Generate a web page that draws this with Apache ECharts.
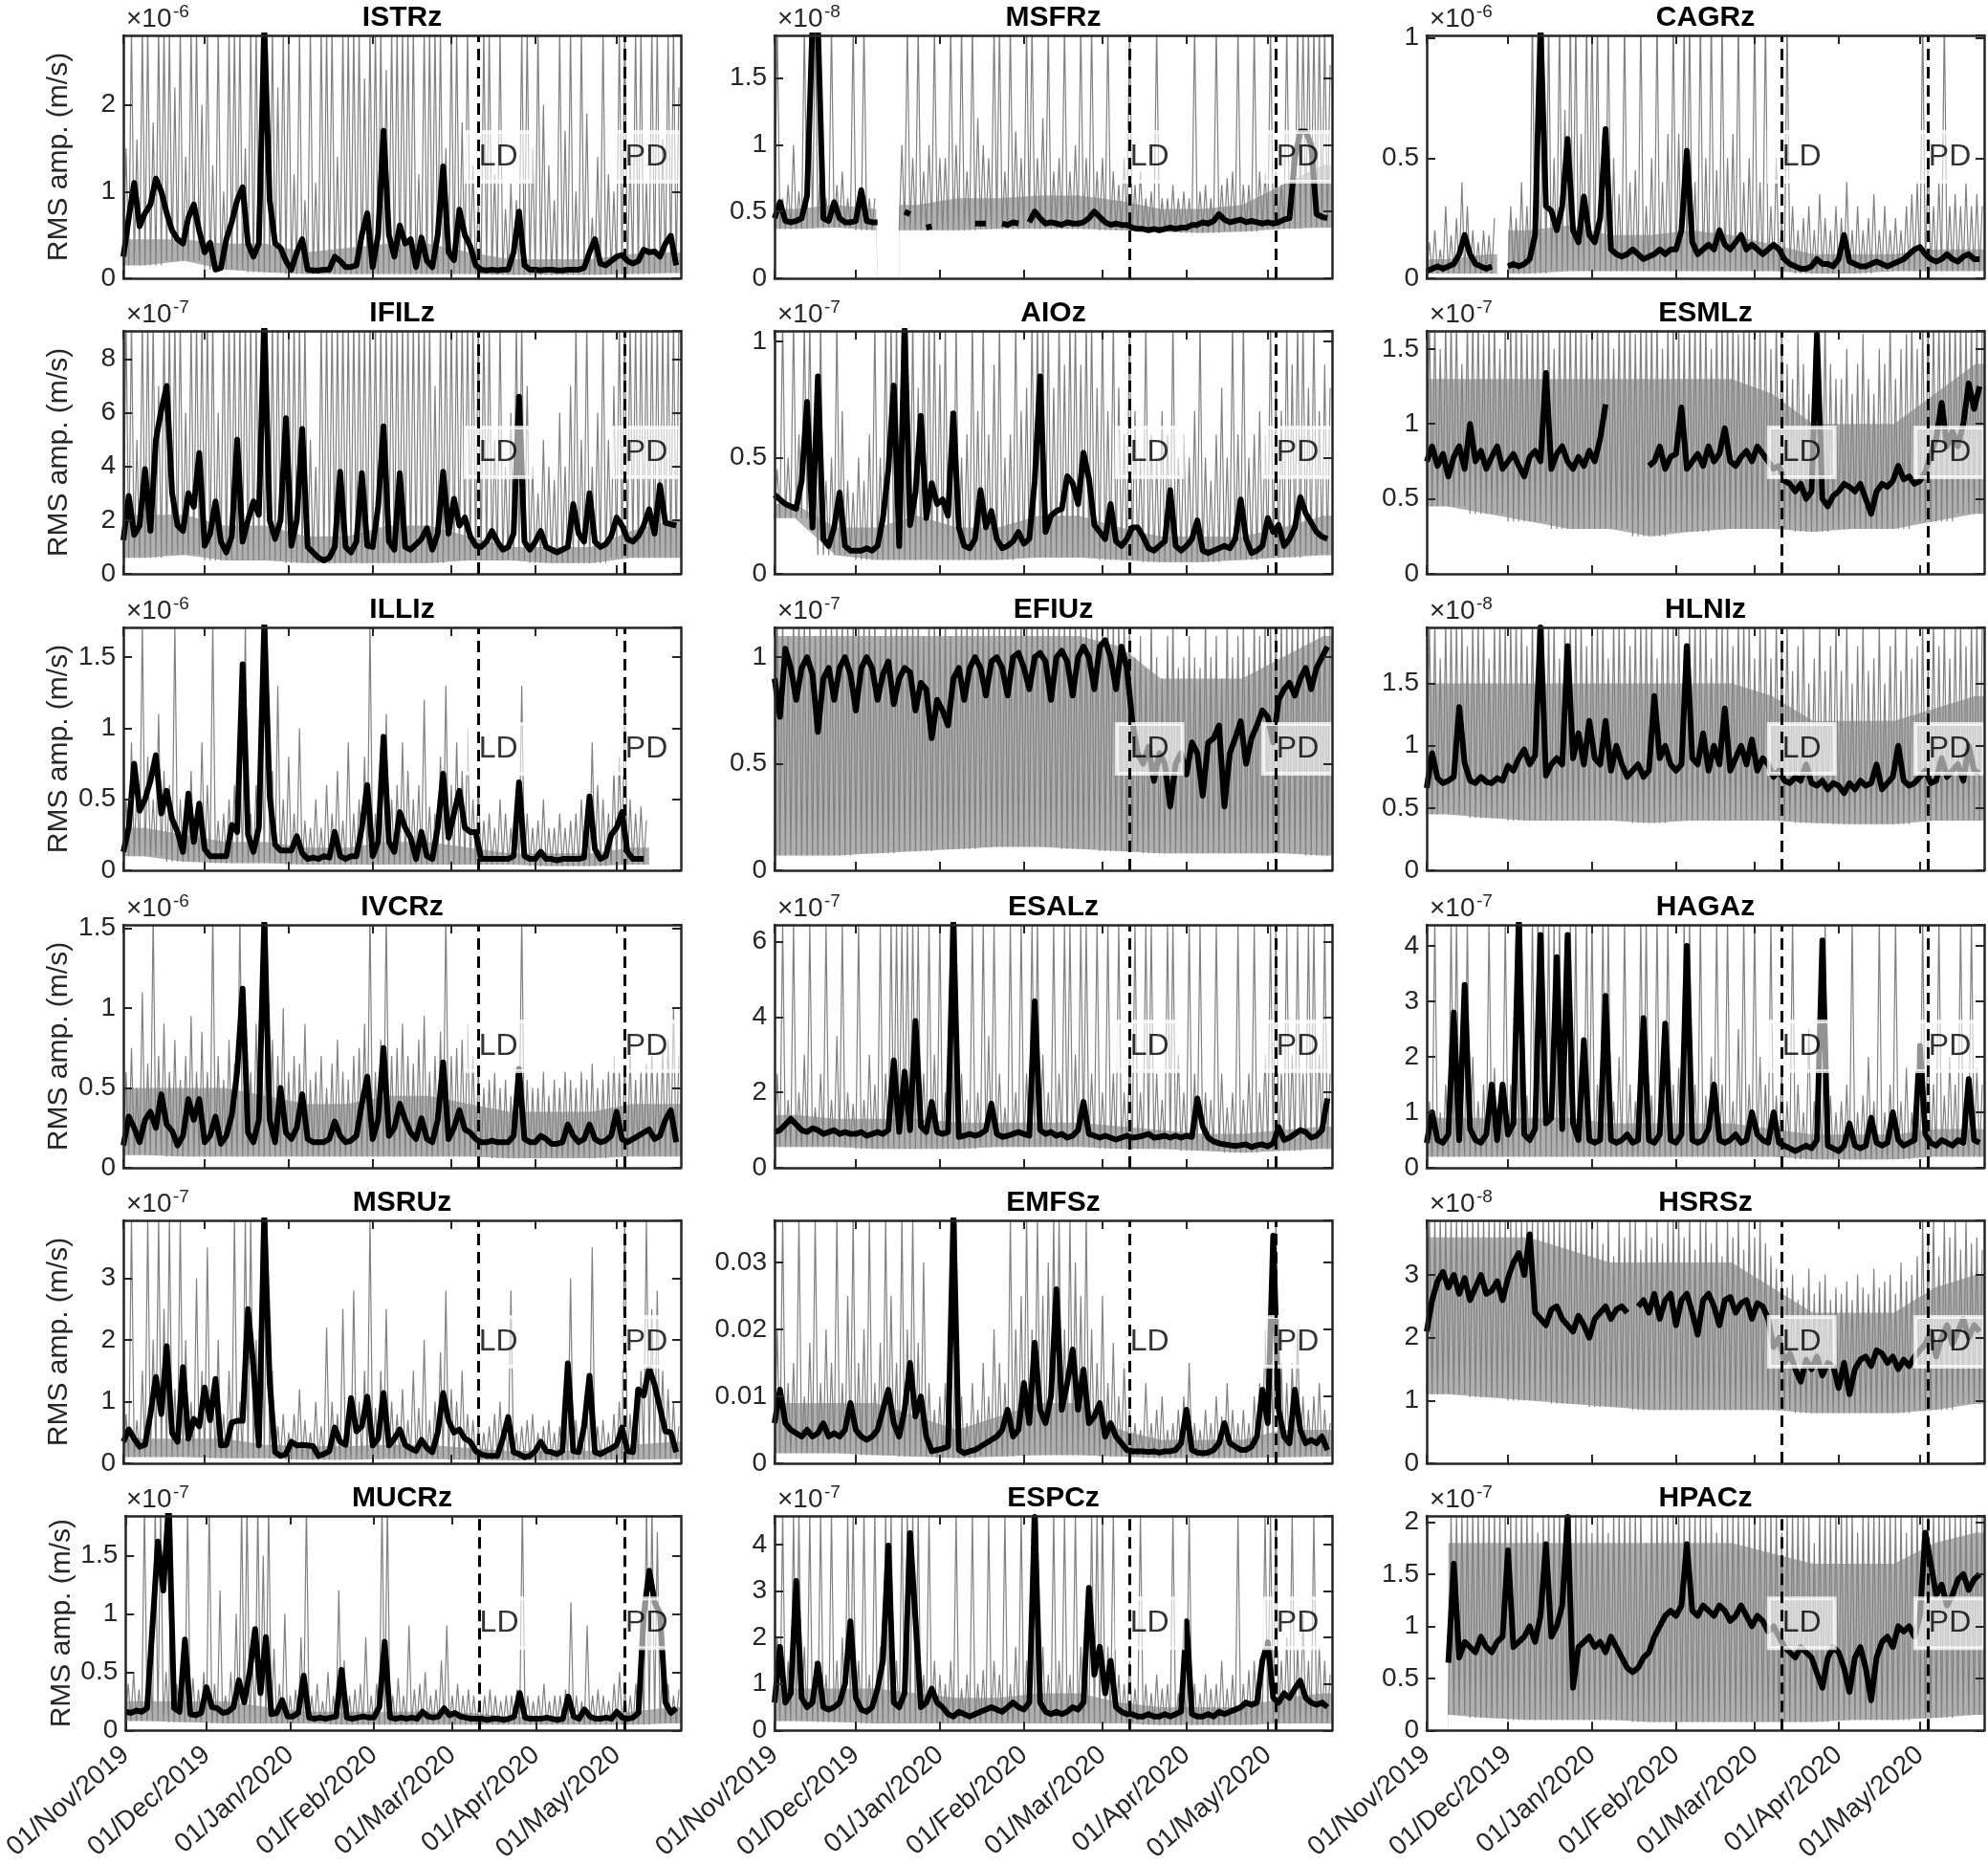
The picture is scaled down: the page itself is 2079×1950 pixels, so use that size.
<!DOCTYPE html>
<html>
<head>
<meta charset="utf-8">
<script src="https://cdn.jsdelivr.net/npm/echarts@6/dist/echarts.min.js"></script>
<style>
html, body { margin: 0; padding: 0; background: #fff; }
#main { width: 2079px; height: 1950px; }
</style>
</head>
<body>
<div id="main"></div>
<script>
"use strict"
var FONT = '"Liberation Sans", Arial, Helvetica, sans-serif';

// x axis: days since 01/Nov/2019
var monthDays = [0, 30, 61, 92, 121, 152, 182];
var monthLabels = ['01/Nov/2019', '01/Dec/2019', '01/Jan/2020', '01/Feb/2020', '01/Mar/2020', '01/Apr/2020', '01/May/2020'];
var xEnd = 205.7;
var ldDay = 131, pdDay = 185;

var stations = ['ISTRz', 'MSFRz', 'CAGRz', 'IFILz', 'AIOz', 'ESMLz', 'ILLIz', 'EFIUz', 'HLNIz',
  'IVCRz', 'ESALz', 'HAGAz', 'MSRUz', 'EMFSz', 'HSRSz', 'MUCRz', 'ESPCz', 'HPACz'];
var yMax  = [2.8, 1.82, 1.01, 9.05, 1.045, 1.62, 1.71, 1.14, 1.95, 1.52, 6.45, 4.38, 3.94, 0.0363, 3.87, 1.84, 4.62, 2.06];
var yStep = [1, 0.5, 0.5, 2, 0.5, 0.5, 0.5, 0.5, 0.5, 0.5, 2, 1, 1, 0.01, 1, 0.5, 1, 0.5];
var yExp  = ['-6', '-8', '-6', '-7', '-7', '-7', '-6', '-7', '-8', '-6', '-7', '-7', '-7', '', '-8', '-7', '-7', '-7'];

// black = smoothed curve, one value every 2 days (day 0,2,...,204)
// hi = grey hourly peaks, one every 2 days (day 1,3,...,205)
// lo = grey floor and band = top of the dense grey band, one value per 15 days
var blk_ISTRz = [0.25,0.7,1.1,0.6,0.75,0.85,1.15,1.0,0.75,0.55,0.45,0.4,0.7,0.85,0.55,
  0.3,0.41,0.1,0.12,0.45,0.65,0.9,1.05,0.4,0.25,0.4,2.9,0.9,0.4,0.35,0.2,
  0.1,0.3,0.45,0.1,0.09,0.09,0.1,0.1,0.25,0.2,0.13,0.13,0.15,0.5,0.75,
  0.13,0.5,1.7,0.5,0.25,0.61,0.4,0.45,0.13,0.47,0.2,0.13,0.5,1.29,0.3,
  0.21,0.79,0.5,0.37,0.15,0.1,0.09,0.1,0.09,0.1,0.1,0.3,0.77,0.15,0.1,
  0.1,0.09,0.1,0.1,0.09,0.09,0.1,0.1,0.1,0.12,0.3,0.45,0.17,0.15,0.2,
  0.25,0.27,0.2,0.17,0.2,0.33,0.3,0.31,0.25,0.4,0.49,0.15];
var hi_ISTRz = [1.5,2.9,1.6,2.9,2.9,1.8,2.9,2.9,2.9,2.2,2.9,1.4,2.9,2.9,2.0,
  2.9,1.3,2.9,1.0,2.9,2.9,2.9,1.5,2.9,2.9,2.9,2.9,2.9,2.2,2.9,2.9,
  1.2,2.9,0.9,2.9,1.1,2.9,2.9,2.9,1.4,2.9,2.9,2.9,2.9,2.3,2.9,
  2.9,2.9,2.4,2.9,2.9,2.9,2.9,2.9,1.2,2.9,2.9,2.9,2.9,1.5,2.9,
  2.9,1.8,2.9,1.3,0.9,2.9,2.9,1.2,2.9,0.8,1.1,0.9,2.9,2.9,1.5,
  2.9,2.0,1.3,0.9,2.9,1.7,2.9,1.0,2.9,1.9,0.7,1.4,2.9,1.2,1.0,
  2.9,2.9,1.4,2.9,2.9,1.1,2.9,2.9,1.6,2.9,2.9,2.2];
var lo_ISTRz = [0.15,0.2,0.1,0.07,0.05,0.05,0.05,0.05,0.05,0.04,0.04,0.04,0.05,0.06];
var band_ISTRz = [0.45,0.45,0.4,0.4,0.3,0.35,0.4,0.4,0.3,0.22,0.22,0.22,0.28,0.3];

var blk_MSFRz = [0.45,0.57,0.43,0.42,0.43,0.45,0.62,1.9,1.9,0.45,0.43,0.57,0.45,0.42,0.42,
  0.43,0.66,0.43,0.42,0.42,null,null,null,null,0.5,0.48,null,null,0.38,0.39,null,
  null,null,null,null,null,null,0.41,0.41,0.41,null,null,0.41,0.4,0.42,0.41,
  null,0.42,0.5,0.45,0.41,0.42,0.41,0.4,0.42,0.41,0.41,0.42,0.45,0.5,0.46,
  0.42,0.4,0.41,0.4,0.4,0.38,0.37,0.37,0.36,0.37,0.36,0.37,0.38,0.37,0.38,
  0.38,0.4,0.4,0.42,0.41,0.43,0.48,0.44,0.42,0.43,0.44,0.42,0.43,0.42,0.41,
  0.42,0.41,0.42,0.44,0.45,0.9,1.1,1.1,1.0,0.48,0.46,0.45];
var hi_MSFRz = [1.9,0.6,0.7,1.0,0.65,1.9,1.9,1.9,0.9,0.6,1.9,0.7,0.8,0.6,1.9,
  0.65,1.9,0.6,0.6,null,null,null,null,1.0,1.9,0.9,1.9,0.8,1.0,1.9,0.9,
  0.9,1.9,1.0,1.9,0.8,1.9,1.2,1.0,0.9,1.9,1.9,0.8,1.9,1.1,0.9,
  1.9,1.9,0.9,1.2,1.9,0.8,0.9,1.9,0.8,1.0,1.9,0.9,1.9,0.8,0.9,
  1.9,0.8,0.7,0.9,1.9,0.7,0.8,0.6,0.65,1.9,0.6,0.6,0.7,0.6,0.65,
  0.6,1.9,0.65,0.7,0.6,1.9,0.7,0.75,0.8,1.9,0.7,0.7,1.9,0.8,0.8,
  1.9,0.8,0.7,1.9,1.0,1.9,1.9,1.9,1.9,1.9,1.9,1.6];
var lo_MSFRz = [0.37,0.38,0.36,0.36,0.36,0.37,0.37,0.37,0.36,0.35,0.34,0.35,0.37,0.38];
var band_MSFRz = [0.52,0.55,0.52,0.55,0.6,0.6,0.62,0.62,0.58,0.52,0.52,0.55,0.7,0.85];

var blk_CAGRz = [0.03,0.04,0.05,0.04,0.05,0.06,0.1,0.18,0.1,0.06,0.05,0.04,0.05,null,null,
  0.05,0.06,0.05,0.06,0.08,0.18,1.05,0.3,0.28,0.2,0.3,0.58,0.2,0.15,0.34,0.18,
  0.15,0.25,0.62,0.12,0.1,0.09,0.1,0.12,0.1,0.08,0.09,0.1,0.12,0.1,0.12,
  0.12,0.2,0.53,0.15,0.1,0.12,0.14,0.12,0.2,0.14,0.12,0.15,0.18,0.12,0.14,
  0.12,0.1,0.12,0.14,0.12,0.08,0.06,0.05,0.04,0.04,0.05,0.08,0.06,0.06,0.05,
  0.08,0.18,0.07,0.06,0.05,0.05,0.06,0.07,0.06,0.05,0.06,0.07,0.08,0.1,0.12,
  0.13,0.1,0.08,0.07,0.08,0.1,0.08,0.07,0.09,0.1,0.08,0.08];
var hi_CAGRz = [0.15,0.2,0.12,0.3,0.18,0.25,0.4,0.3,0.2,0.15,0.2,0.18,0.25,null,null,
  0.3,0.25,0.4,0.3,1.1,0.6,1.1,1.1,0.5,1.1,0.7,1.1,1.1,0.6,1.1,1.1,
  1.1,0.6,1.1,0.5,0.35,1.1,0.4,0.45,1.1,0.3,0.5,1.1,0.4,0.6,1.1,
  0.6,1.1,1.1,0.4,1.1,0.5,1.1,0.45,1.1,0.5,0.6,1.1,0.4,0.5,1.1,
  0.4,1.1,0.3,0.5,0.25,1.1,0.3,0.2,0.25,0.3,0.2,0.35,0.25,0.2,0.3,
  0.25,0.4,0.2,0.3,0.2,0.25,0.35,0.2,0.3,0.2,0.25,0.2,0.3,0.35,0.4,
  1.1,0.5,0.3,0.4,1.1,0.3,0.35,0.3,0.4,0.3,0.35,0.3];
var lo_CAGRz = [0.02,0.02,0.02,0.03,0.03,0.03,0.03,0.03,0.03,0.02,0.02,0.03,0.03,0.03];
var band_CAGRz = [0.08,0.1,0.2,0.22,0.18,0.18,0.2,0.18,0.14,0.1,0.1,0.1,0.12,0.12];

var blk_IFILz = [1.25,2.9,1.45,1.8,3.9,1.6,5.0,6.1,7.0,3.0,1.8,1.6,3.0,2.5,4.5,
  1.05,1.5,2.7,1.2,0.8,1.4,5.0,1.2,2.0,2.7,2.2,9.5,2.0,1.3,2.0,5.8,
  1.05,2.0,5.4,1.0,0.8,0.6,0.5,0.6,1.0,3.8,1.0,0.8,1.2,3.75,1.05,
  1.0,2.5,5.5,1.2,0.9,3.75,1.0,0.9,1.1,1.3,1.7,0.9,1.5,3.8,1.5,
  2.8,1.8,2.1,1.4,1.05,1.0,1.2,1.6,1.2,0.9,1.0,1.5,6.6,1.2,0.9,
  1.2,1.6,1.0,0.9,0.8,0.9,1.0,2.6,1.5,1.2,3.0,1.2,1.0,1.1,1.4,
  2.1,1.8,1.3,1.2,1.4,1.8,2.4,1.5,3.3,1.9,1.85,1.8];
var hi_IFILz = [9.5,9.5,5,9.5,9.5,9.5,7,9.5,9.5,9.5,9.5,6,9.5,9.5,9.5,
  9.5,9.5,6,9.5,9.5,9.5,9.5,9.5,9.5,9.5,9.5,9.5,9.5,9.5,9.5,9.5,
  9.5,9.5,9.5,5,4,9.5,9.5,9.5,9.5,9.5,9.5,9.5,9.5,9.5,9.5,
  9.5,9.5,9.5,9.5,9.5,9.5,9.5,9.5,9.5,9.5,9.5,7,9.5,9.5,9.5,
  9.5,9.5,9.5,9.5,9.5,9.5,9.5,5,9.5,4,6,9.5,9.5,7,4,
  3,5,4,3.5,6,4,7,9.5,5,9.5,4,6,9.5,5,7,
  9.5,9.5,9.5,9.5,9.5,9.5,9.5,9.5,9.5,9.5,9.5,9.5];
var lo_IFILz = [0.6,0.7,0.5,0.5,0.4,0.4,0.4,0.4,0.5,0.5,0.4,0.4,0.6,0.6];
var band_IFILz = [2.2,2.2,1.8,1.8,1.4,1.4,1.8,1.8,1.4,1.0,1.0,1.0,1.6,2.0];

var blk_AIOz = [0.34,0.32,0.3,0.29,0.28,0.4,0.74,0.2,0.85,0.15,0.12,0.2,0.35,0.12,0.1,
  0.1,0.1,0.11,0.1,0.12,0.24,0.45,0.81,0.12,1.05,0.21,0.35,0.68,0.24,0.39,0.3,
  0.32,0.25,0.69,0.2,0.12,0.11,0.15,0.36,0.2,0.27,0.15,0.11,0.12,0.14,0.18,
  0.13,0.15,0.4,0.85,0.18,0.25,0.27,0.28,0.42,0.39,0.3,0.52,0.41,0.21,0.18,
  0.15,0.3,0.14,0.12,0.15,0.2,0.2,0.16,0.11,0.1,0.12,0.14,0.36,0.12,0.1,
  0.12,0.15,0.23,0.1,0.09,0.1,0.11,0.12,0.11,0.15,0.32,0.15,0.09,0.1,0.12,
  0.24,0.18,0.21,0.12,0.15,0.2,0.33,0.26,0.22,0.18,0.16,0.15];
var hi_AIOz = [0.45,1.1,0.5,1.1,0.6,1.1,1.1,0.5,1.1,0.4,0.5,1.1,0.7,0.4,0.35,
  0.5,0.4,0.6,1.1,0.5,1.1,1.1,1.1,1.1,1.1,1.1,0.8,1.1,1.1,1.1,0.9,
  1.1,0.7,1.1,0.5,0.6,1.1,0.7,1.1,0.6,0.9,1.1,0.5,0.6,1.1,0.7,
  0.8,1.1,1.1,1.1,1.1,0.8,1.1,0.9,1.1,1.1,0.9,1.1,1.1,0.8,1.1,
  0.7,1.1,0.8,0.6,1.1,0.7,0.5,1.1,0.6,0.5,0.7,0.6,1.1,0.5,0.6,
  0.5,0.7,1.1,0.5,0.4,0.6,0.8,0.5,1.1,0.6,1.1,0.5,0.6,0.7,0.6,
  1.1,0.8,0.7,1.1,0.9,1.1,1.1,0.8,1.1,0.7,0.9,0.8];
var lo_AIOz = [0.24,0.08,0.06,0.06,0.06,0.06,0.07,0.07,0.06,0.05,0.05,0.06,0.07,0.08];
var band_AIOz = [0.3,0.2,0.2,0.25,0.2,0.2,0.25,0.25,0.2,0.16,0.16,0.16,0.2,0.25];

var blk_ESMLz = [0.75,0.85,0.72,0.8,0.65,0.78,0.85,0.7,1.0,0.75,0.82,0.7,0.78,0.85,0.7,
  0.75,0.8,0.72,0.65,0.78,0.82,0.75,1.34,0.7,0.8,0.85,0.75,0.7,0.78,0.72,0.82,
  0.75,0.9,1.13,null,null,null,null,null,null,null,0.72,0.75,0.85,0.7,0.78,
  0.8,1.11,0.7,0.75,0.8,0.72,0.85,0.75,0.8,0.97,0.75,0.72,0.78,0.82,0.75,
  0.85,0.8,0.75,0.7,0.72,0.62,0.6,0.55,0.6,0.5,0.55,1.6,0.5,0.45,0.52,
  0.55,0.6,0.58,0.55,0.6,0.5,0.4,0.55,0.6,0.58,0.62,0.72,0.63,0.65,0.6,
  0.62,0.68,0.8,0.9,1.14,0.85,0.95,0.85,1.0,1.27,1.1,1.25];
var hi_ESMLz = [1.7,1.7,1.5,1.7,1.7,1.7,1.4,1.7,1.7,1.7,1.6,1.7,1.7,1.5,1.7,
  1.7,1.7,1.7,1.6,1.7,1.7,1.7,1.7,1.5,1.7,1.7,1.7,1.7,1.7,1.6,1.7,
  1.7,1.7,1.7,1.5,1.7,1.7,1.7,1.6,1.7,1.7,1.7,1.7,1.5,1.7,1.7,
  1.7,1.6,1.7,1.7,1.7,1.7,1.5,1.7,1.7,1.7,1.7,1.6,1.7,1.7,1.7,
  1.7,1.7,1.5,1.7,1.7,1.4,1.3,1.6,1.4,1.2,1.5,1.3,1.7,1.4,1.3,
  1.3,1.5,1.2,1.4,1.6,1.3,1.2,1.5,1.4,1.7,1.3,1.5,1.6,1.7,1.5,
  1.7,1.7,1.7,1.7,1.7,1.7,1.7,1.7,1.7,1.7,1.7,1.7];
var lo_ESMLz = [0.45,0.4,0.35,0.3,0.3,0.25,0.28,0.3,0.3,0.28,0.3,0.3,0.35,0.4];
var band_ESMLz = [1.3,1.3,1.3,1.3,1.3,1.3,1.3,1.3,1.2,1.0,1.0,1.0,1.2,1.4];

var blk_ILLIz = [0.13,0.3,0.75,0.42,0.5,0.63,0.81,0.4,0.56,0.36,0.27,0.13,0.54,0.2,0.47,
  0.15,0.1,0.1,0.1,0.1,0.32,0.27,1.45,0.25,0.13,0.3,1.75,0.52,0.18,0.14,0.14,
  0.14,0.24,0.12,0.08,0.09,0.08,0.1,0.09,0.27,0.1,0.08,0.1,0.1,0.3,0.6,
  0.1,0.2,0.94,0.2,0.13,0.41,0.3,0.23,0.08,0.27,0.1,0.08,0.3,0.68,0.23,
  0.4,0.56,0.3,0.27,0.27,0.08,0.08,0.08,0.08,0.08,0.08,0.1,0.62,0.1,0.08,
  0.08,0.13,0.08,0.08,0.07,0.08,0.08,0.08,0.08,0.09,0.52,0.15,0.08,0.1,0.25,
  0.3,0.41,0.13,0.08,0.08,0.08,null,null,null,null,null,null];
var hi_ILLIz = [0.5,0.9,0.6,1.75,0.8,0.5,1.1,0.7,0.6,1.75,0.5,0.4,0.7,0.45,0.9,
  0.6,1.75,0.35,0.4,0.5,0.6,0.8,1.75,0.4,0.6,1.2,1.75,0.7,1.3,0.5,0.8,
  0.4,1.0,0.35,0.3,0.5,0.3,0.6,0.4,0.7,0.35,0.9,0.4,0.5,0.8,1.75,
  0.4,0.6,1.1,0.5,0.6,0.9,0.7,0.5,0.6,1.2,0.45,0.4,0.8,1.3,0.6,
  0.9,0.7,1.0,0.5,0.6,0.35,0.4,0.3,0.5,0.4,0.3,0.5,1.3,0.4,0.3,
  0.35,0.5,0.3,0.3,0.4,0.3,0.35,0.4,0.5,0.4,0.9,0.6,0.5,0.4,0.7,
  0.8,1.2,0.5,0.4,0.45,0.35,null,null,null,null,null,null];
var lo_ILLIz = [0.1,0.06,0.05,0.05,0.04,0.04,0.04,0.04,0.04,0.04,0.03,0.03,0.04,0.04];
var band_ILLIz = [0.3,0.25,0.2,0.2,0.16,0.16,0.2,0.2,0.16,0.12,0.12,0.12,0.16,0.16];

var blk_EFIUz = [0.9,0.72,1.04,0.95,0.8,0.95,1.0,0.92,0.65,0.9,0.95,0.8,0.95,1.0,0.92,
  0.75,0.95,1.0,0.95,0.8,0.92,0.98,0.78,0.9,0.95,0.93,0.75,0.88,0.85,0.62,0.8,
  0.75,0.68,0.9,0.95,0.8,0.95,1.0,0.95,0.82,0.98,1.0,0.95,0.82,1.0,1.02,
  0.95,0.85,1.0,1.02,0.98,0.8,1.0,1.03,0.98,0.82,1.0,1.05,1.0,0.85,1.05,
  1.08,1.0,0.85,1.05,0.95,0.7,0.55,0.5,0.58,0.42,0.55,0.5,0.3,0.5,0.55,
  0.45,0.6,0.55,0.35,0.6,0.62,0.68,0.3,0.55,0.62,0.7,0.5,0.62,0.68,0.75,
  0.72,0.6,0.8,0.85,0.88,0.82,0.9,0.95,0.85,0.95,1.0,1.05];
var hi_EFIUz = [1.2,1.2,1.1,1.2,1.2,1.2,1.2,1.1,1.2,1.2,1.2,1.2,1.2,1.2,1.2,
  1.2,1.2,1.2,1.2,1.1,1.2,1.2,1.2,1.2,1.2,1.2,1.2,1.1,1.2,1.2,1.2,
  1.2,1.1,1.2,1.2,1.2,1.2,1.2,1.2,1.2,1.2,1.2,1.2,1.2,1.2,1.2,
  1.2,1.2,1.2,1.2,1.2,1.2,1.2,1.2,1.2,1.2,1.2,1.2,1.2,1.2,1.2,
  1.2,1.2,1.2,1.2,1.2,1.0,1.1,0.95,1.2,1.0,0.9,1.1,1.2,0.95,1.0,
  1.1,1.0,0.95,1.2,1.0,1.1,0.9,1.2,1.0,1.1,1.2,1.0,1.2,1.1,1.2,
  1.2,1.2,1.2,1.2,1.2,1.2,1.2,1.2,1.2,1.2,1.2,1.2];
var lo_EFIUz = [0.07,0.07,0.08,0.09,0.1,0.11,0.11,0.1,0.09,0.08,0.08,0.08,0.08,0.07];
var band_EFIUz = [1.1,1.1,1.1,1.1,1.1,1.1,1.1,1.1,1.05,0.9,0.9,0.9,1.0,1.1];

var blk_HLNIz = [0.66,0.94,0.74,0.7,0.72,0.75,1.31,0.86,0.72,0.7,0.75,0.71,0.7,0.74,0.72,
  0.84,0.8,0.9,0.97,0.85,0.92,1.95,0.76,0.85,0.9,0.85,1.8,0.9,1.1,0.85,1.2,
  0.9,0.85,1.2,0.8,1.0,0.85,0.75,0.8,0.85,0.75,0.8,1.4,0.9,1.0,0.85,
  0.8,0.85,1.8,0.9,0.85,1.1,0.8,1.0,0.85,1.3,0.8,0.9,1.0,0.85,1.05,
  0.8,0.9,0.85,0.75,0.8,0.72,0.7,0.75,0.72,0.85,0.7,0.68,0.72,0.65,0.7,
  0.68,0.62,0.7,0.65,0.72,0.68,0.7,0.85,0.65,0.7,0.75,1.0,0.72,0.68,0.7,
  0.75,0.8,0.7,0.72,0.9,0.75,0.8,0.85,0.72,1.0,0.8,0.78];
var hi_HLNIz = [2.0,2.0,1.7,2.0,2.0,2.0,2.0,1.8,2.0,2.0,2.0,1.7,2.0,2.0,2.0,
  2.0,2.0,2.0,1.8,2.0,2.0,2.0,2.0,2.0,1.7,2.0,2.0,2.0,2.0,1.8,2.0,
  2.0,2.0,1.7,2.0,2.0,2.0,1.8,2.0,2.0,2.0,2.0,1.7,2.0,2.0,2.0,
  2.0,1.8,2.0,2.0,2.0,2.0,1.7,2.0,2.0,2.0,1.8,2.0,2.0,2.0,1.7,
  2.0,2.0,1.7,2.0,1.8,2.0,1.6,1.8,2.0,1.5,1.7,2.0,1.6,1.8,2.0,
  1.6,2.0,1.5,1.8,2.0,1.6,1.7,2.0,1.5,1.8,2.0,1.6,2.0,1.7,1.8,
  2.0,1.6,2.0,1.8,2.0,1.7,2.0,2.0,1.8,2.0,2.0,2.0];
var lo_HLNIz = [0.45,0.42,0.4,0.4,0.4,0.38,0.4,0.4,0.4,0.38,0.37,0.37,0.4,0.4];
var band_HLNIz = [1.5,1.5,1.5,1.5,1.5,1.5,1.5,1.5,1.4,1.2,1.2,1.2,1.3,1.4];

var blk_IVCRz = [0.14,0.32,0.25,0.16,0.3,0.35,0.25,0.46,0.27,0.23,0.14,0.2,0.43,0.3,0.43,
  0.16,0.2,0.32,0.15,0.2,0.33,0.6,1.12,0.22,0.16,0.3,1.55,0.3,0.16,0.5,0.22,
  0.18,0.25,0.46,0.18,0.16,0.16,0.16,0.18,0.29,0.2,0.16,0.17,0.2,0.4,0.57,
  0.18,0.3,0.75,0.2,0.25,0.4,0.3,0.22,0.18,0.31,0.18,0.16,0.3,0.66,0.18,
  0.25,0.36,0.24,0.22,0.18,0.16,0.16,0.17,0.16,0.16,0.16,0.2,0.62,0.18,0.16,
  0.16,0.2,0.18,0.15,0.15,0.16,0.27,0.2,0.16,0.18,0.27,0.18,0.16,0.17,0.2,
  0.35,0.18,0.16,0.18,0.2,0.22,0.24,0.18,0.2,0.3,0.36,0.16];
var hi_IVCRz = [0.6,0.75,0.5,1.1,0.65,1.6,0.7,0.9,0.6,0.8,0.55,0.7,0.95,0.6,0.85,
  0.6,1.6,0.7,0.55,0.8,0.65,1.6,0.7,0.6,0.9,0.75,1.6,0.8,0.7,1.0,0.6,
  0.7,0.65,0.9,0.55,0.6,0.7,0.5,0.65,0.8,0.6,0.55,0.7,0.75,0.9,1.6,
  0.6,0.8,1.6,0.7,0.75,0.9,0.7,0.65,0.8,0.95,0.6,0.7,0.85,1.6,0.7,
  0.75,0.8,0.9,0.7,0.6,0.5,0.55,0.6,0.5,0.55,0.45,0.6,1.6,0.55,0.5,
  0.5,0.6,0.45,0.55,0.5,0.6,0.55,0.5,0.6,0.55,0.65,0.5,0.55,0.6,0.7,
  0.6,0.65,0.7,0.55,0.6,0.65,0.7,0.6,0.75,0.8,1.0,0.7];
var lo_IVCRz = [0.08,0.07,0.07,0.07,0.07,0.07,0.07,0.07,0.07,0.06,0.06,0.06,0.07,0.07];
var band_IVCRz = [0.5,0.5,0.5,0.45,0.4,0.4,0.45,0.45,0.4,0.35,0.35,0.35,0.4,0.4];

var blk_ESALz = [0.95,1.0,1.15,1.3,1.15,1.0,0.95,1.05,1.0,0.9,0.95,1.0,0.9,0.95,0.9,
  0.9,0.95,0.85,0.9,0.95,0.9,1.0,2.85,0.95,2.55,1.0,3.9,1.1,0.95,1.75,0.95,
  0.9,0.95,6.5,0.82,0.85,0.9,0.85,0.9,1.0,1.7,0.9,0.82,0.85,0.9,0.95,
  0.9,0.85,4.42,1.0,0.9,0.95,0.85,0.9,0.8,0.85,1.0,1.75,0.9,0.85,0.8,
  0.85,0.8,0.75,0.8,0.85,0.8,0.82,0.85,0.9,0.8,0.82,0.85,0.8,0.85,0.8,
  0.85,0.82,1.84,1.1,0.8,0.7,0.65,0.62,0.6,0.58,0.6,0.62,0.55,0.6,0.62,
  0.57,0.65,1.08,0.74,0.8,0.9,1.0,0.95,0.8,0.85,1.0,1.84];
var hi_ESALz = [2.5,6.5,1.8,6.5,2.0,3.0,6.5,1.6,2.5,6.5,1.8,3.5,6.5,2.0,1.7,
  6.5,1.8,3.0,2.2,6.5,2.5,6.5,6.5,6.5,6.5,6.5,6.5,2.5,6.5,3.0,6.5,
  2.0,6.5,6.5,2.5,1.8,6.5,2.0,6.5,3.5,6.5,2.5,1.6,6.5,2.0,6.5,
  2.5,6.5,6.5,3.0,2.0,6.5,2.5,6.5,6.5,3.0,6.5,6.5,2.5,6.5,2.0,
  6.5,2.5,6.5,2.0,3.0,6.5,2.0,6.5,6.5,2.5,1.8,6.5,6.5,3.0,2.0,
  6.5,2.5,6.5,2.0,1.8,6.5,2.5,1.6,2.0,6.5,1.8,2.5,6.5,2.0,3.0,
  6.5,6.5,2.5,6.5,3.0,6.5,2.5,6.5,6.5,3.0,6.5,2.5];
var lo_ESALz = [0.55,0.55,0.5,0.5,0.5,0.55,0.55,0.55,0.5,0.5,0.45,0.4,0.45,0.5];
var band_ESALz = [1.4,1.3,1.3,1.3,1.2,1.2,1.2,1.2,1.1,1.0,0.9,0.9,1.0,1.1];

var blk_HAGAz = [0.45,1.0,0.5,0.45,0.6,2.8,0.5,3.3,0.7,0.5,0.45,0.6,1.5,0.5,1.5,
  0.6,0.8,4.5,0.6,0.5,0.7,4.2,0.8,0.9,3.8,0.7,4.2,0.8,0.5,2.3,0.5,
  0.45,0.5,3.1,0.5,0.45,0.5,0.6,0.45,0.5,2.7,0.5,0.45,0.6,2.6,0.5,
  0.45,0.6,4.0,0.5,0.45,0.5,0.7,1.5,0.5,0.45,0.5,0.6,0.45,0.5,1.0,
  0.6,0.5,0.45,1.0,0.45,0.4,0.35,0.3,0.35,0.4,0.35,0.5,4.1,0.4,0.35,
  0.3,0.4,0.8,0.4,0.35,0.4,0.9,0.45,0.4,0.45,1.0,0.5,0.4,0.45,0.5,
  2.2,0.6,0.45,0.4,0.5,0.45,0.4,0.5,0.45,1.6,0.5,0.45];
var hi_HAGAz = [1.2,4.5,1.0,1.5,4.5,4.5,1.3,4.5,2.0,1.2,1.5,4.5,1.8,1.2,4.5,
  1.5,4.5,4.5,1.3,4.5,4.5,4.5,4.5,4.5,4.5,2.5,4.5,4.5,2.0,4.5,4.5,
  1.5,4.5,4.5,1.2,2.0,4.5,1.5,1.2,4.5,4.5,1.3,4.5,2.0,4.5,1.5,
  1.8,4.5,4.5,1.5,4.5,1.3,2.0,4.5,1.5,4.5,1.2,2.5,4.5,1.5,4.5,
  2.0,1.5,4.5,1.3,1.8,1.2,4.5,1.5,1.0,2.5,1.2,1.5,4.5,1.3,1.0,
  1.2,1.5,4.5,1.0,1.3,2.0,1.2,4.5,1.0,1.5,4.5,1.2,1.8,1.0,1.5,
  4.5,2.5,1.5,4.5,1.3,2.0,1.5,4.5,1.2,4.5,1.8,1.5];
var lo_HAGAz = [0.2,0.2,0.2,0.2,0.2,0.2,0.2,0.2,0.2,0.15,0.15,0.15,0.2,0.2];
var band_HAGAz = [0.9,0.9,0.9,0.9,0.8,0.8,0.8,0.8,0.7,0.6,0.6,0.6,0.7,0.7];

var blk_MSRUz = [0.35,0.55,0.4,0.27,0.3,0.8,1.4,0.8,1.9,0.49,0.35,1.56,0.4,0.72,0.6,
  1.23,0.7,1.37,0.29,0.3,0.66,0.69,0.69,2.5,1.56,0.29,4.0,1.31,0.18,0.12,0.15,
  0.35,0.29,0.3,0.29,0.28,0.12,0.15,0.2,0.58,0.35,0.3,1.06,0.52,0.6,1.08,
  0.29,0.4,1.14,0.29,0.4,0.55,0.3,0.24,0.2,0.38,0.25,0.18,0.5,1.14,0.69,
  0.5,0.55,0.4,0.35,0.2,0.15,0.12,0.12,0.12,0.4,0.75,0.18,0.15,0.1,0.12,
  0.2,0.35,0.2,0.18,0.15,0.2,1.62,0.2,0.18,0.6,1.42,0.18,0.15,0.2,0.24,
  0.3,0.58,0.2,0.18,1.2,1.1,1.54,1.28,0.9,0.52,0.5,0.18];
var hi_MSRUz = [0.8,4.0,0.7,1.5,4.0,2.0,4.0,2.5,4.0,1.2,4.0,2.0,1.0,3.0,1.5,
  3.5,1.2,2.0,0.8,1.5,4.0,1.0,4.0,4.0,2.0,4.0,4.0,1.5,0.6,0.8,0.5,
  0.8,1.2,0.7,0.5,1.0,0.6,2.2,1.0,0.8,2.5,0.9,2.8,1.0,1.5,4.0,
  0.9,1.5,2.5,1.0,0.8,1.2,0.7,1.5,0.9,2.0,0.7,1.0,1.8,2.8,1.2,
  1.0,1.5,0.8,0.7,0.6,0.5,0.6,0.8,1.0,0.6,2.8,0.5,0.6,0.7,0.8,
  0.5,0.6,0.7,0.5,0.6,0.8,3.0,0.7,0.5,0.9,3.5,0.6,0.7,0.5,0.8,
  1.0,4.0,0.8,1.2,1.5,4.0,2.5,2.8,1.5,1.2,1.0,0.6];
var lo_MSRUz = [0.1,0.1,0.08,0.08,0.06,0.06,0.07,0.07,0.06,0.05,0.05,0.06,0.06,0.07];
var band_MSRUz = [0.4,0.4,0.4,0.3,0.28,0.28,0.3,0.3,0.25,0.2,0.2,0.2,0.3,0.35];

var blk_EMFSz = [0.006,0.011,0.006,0.005,0.0045,0.004,0.005,0.004,0.0045,0.006,0.004,0.0045,0.004,0.005,0.009,
  0.005,0.004,0.0035,0.004,0.005,0.008,0.011,0.006,0.004,0.008,0.015,0.007,0.01,0.004,0.0018,0.002,
  0.0022,0.0025,0.037,0.002,0.0015,0.0018,0.002,0.0025,0.003,0.0035,0.004,0.005,0.008,0.004,0.005,
  0.012,0.006,0.018,0.008,0.006,0.01,0.026,0.008,0.012,0.017,0.008,0.014,0.006,0.007,0.009,
  0.004,0.006,0.004,0.003,0.002,0.0018,0.0018,0.0018,0.0017,0.0018,0.0016,0.0018,0.0018,0.002,0.003,
  0.008,0.002,0.0016,0.0015,0.0016,0.002,0.003,0.006,0.003,0.0025,0.002,0.002,0.0025,0.004,0.011,
  0.006,0.034,0.008,0.004,0.003,0.011,0.005,0.003,0.0035,0.003,0.004,0.002];
var hi_EMFSz = [0.02,0.037,0.012,0.015,0.037,0.01,0.018,0.037,0.012,0.02,0.015,0.037,0.012,0.025,0.037,
  0.015,0.02,0.037,0.012,0.018,0.037,0.025,0.015,0.037,0.02,0.037,0.018,0.03,0.012,0.008,0.01,
  0.012,0.008,0.037,0.01,0.006,0.012,0.008,0.015,0.01,0.02,0.015,0.012,0.037,0.02,0.025,
  0.037,0.02,0.037,0.025,0.03,0.037,0.037,0.02,0.037,0.03,0.025,0.037,0.02,0.015,0.025,
  0.012,0.018,0.01,0.015,0.008,0.006,0.005,0.012,0.006,0.008,0.01,0.005,0.006,0.008,0.01,
  0.015,0.006,0.005,0.008,0.006,0.01,0.007,0.012,0.008,0.006,0.008,0.006,0.01,0.012,0.02,
  0.025,0.037,0.015,0.012,0.015,0.02,0.01,0.008,0.01,0.012,0.008,0.006];
var lo_EMFSz = [0.0015,0.0015,0.0012,0.001,0.0008,0.001,0.0012,0.0012,0.001,0.0008,0.0008,0.0008,0.0009,0.001];
var band_EMFSz = [0.009,0.009,0.009,0.007,0.005,0.007,0.009,0.009,0.005,0.0035,0.0035,0.0035,0.005,0.005];

var blk_HSRSz = [2.1,2.6,2.9,3.05,2.8,3.0,2.7,2.95,2.6,2.8,3.0,2.7,2.75,2.9,2.6,
  2.95,3.2,3.35,3.0,3.65,2.4,2.3,2.2,2.45,2.5,2.3,2.2,2.1,2.35,2.2,2.0,
  2.3,2.4,2.5,2.3,2.45,2.5,2.4,null,2.5,2.6,2.4,2.7,2.3,2.6,2.7,
  2.2,2.6,2.7,2.4,2.05,2.6,2.7,2.5,2.2,2.6,2.65,2.4,2.55,2.6,2.3,
  2.55,2.5,2.3,1.85,2.0,1.6,1.75,1.5,1.3,1.65,1.5,1.7,1.4,1.6,1.55,
  1.2,1.6,1.1,1.5,1.65,1.7,1.55,1.8,1.75,1.6,1.7,1.5,1.65,1.55,1.7,
  1.8,1.9,2.1,1.7,2.0,2.2,1.9,2.1,2.3,2.0,2.2,2.1];
var hi_HSRSz = [3.9,3.9,3.9,3.9,3.9,3.9,3.9,3.9,3.9,3.9,3.9,3.9,3.9,3.9,3.9,
  3.9,3.9,3.9,3.9,3.9,3.9,3.9,3.9,3.9,3.9,3.9,3.9,3.9,3.9,3.9,3.9,
  3.9,3.5,3.9,3.3,3.9,3.6,3.9,3.9,3.4,3.9,3.6,3.9,3.5,3.9,3.9,
  3.9,3.6,3.9,3.4,3.9,3.9,3.5,3.9,3.3,3.9,3.6,3.9,3.4,3.9,3.6,
  3.9,3.5,3.3,3.1,2.9,2.8,3.0,2.6,2.8,3.1,2.7,2.9,3.0,2.6,2.8,
  2.7,2.9,2.6,3.0,2.8,2.7,3.1,2.8,2.9,3.0,2.7,3.2,2.9,3.0,3.3,
  3.9,3.5,3.9,3.3,3.9,3.6,3.9,3.4,3.9,3.5,3.6,3.4];
var lo_HSRSz = [1.1,1.05,1.0,0.95,0.9,0.85,0.85,0.85,0.85,0.8,0.8,0.8,0.85,0.95];
var band_HSRSz = [3.6,3.6,3.6,3.4,3.2,3.2,3.2,3.2,2.8,2.4,2.4,2.4,2.8,3.0];

var blk_MUCRz = [0.16,0.15,0.17,0.16,0.19,0.9,1.62,1.2,1.95,0.19,0.16,0.78,0.14,0.13,0.15,
  0.37,0.2,0.19,0.15,0.16,0.2,0.43,0.24,0.5,0.87,0.32,0.8,0.14,0.15,0.26,0.12,
  0.12,0.15,0.47,0.11,0.1,0.11,0.1,0.11,0.12,0.52,0.11,0.1,0.11,0.12,0.11,
  0.11,0.2,0.76,0.11,0.1,0.11,0.1,0.11,0.1,0.16,0.12,0.11,0.12,0.19,0.13,
  0.15,0.12,0.11,0.1,0.1,0.1,0.09,0.1,0.1,0.09,0.1,0.12,0.32,0.11,0.1,
  0.1,0.1,0.11,0.1,0.09,0.1,0.29,0.12,0.1,0.18,0.12,0.1,0.1,0.11,0.1,
  0.16,0.11,0.1,0.11,0.15,1.0,1.37,1.1,1.0,0.24,0.15,0.19];
var hi_MUCRz = [0.4,0.5,0.35,1.95,0.6,1.95,1.95,0.5,1.95,0.4,0.6,1.95,0.45,0.35,0.5,
  1.95,0.4,1.2,0.3,0.5,1.0,1.95,1.95,0.6,1.95,1.5,1.95,0.7,0.4,1.0,0.3,
  0.35,0.8,1.95,0.3,0.4,0.25,0.5,0.3,1.2,0.6,0.3,0.35,0.4,0.8,0.3,
  0.4,1.95,1.95,0.3,0.45,0.3,0.9,0.35,0.4,0.5,0.3,0.35,0.6,0.9,0.3,
  0.4,0.3,0.35,0.3,0.25,0.3,0.35,0.3,0.25,0.3,0.3,0.35,1.95,0.3,0.25,
  0.3,0.4,0.25,0.3,0.3,0.35,1.1,0.3,0.25,0.9,0.3,0.35,0.3,0.25,0.4,
  0.5,0.35,0.3,0.4,1.0,1.95,1.95,1.7,0.6,0.4,0.3,0.35];
var lo_MUCRz = [0.08,0.07,0.06,0.06,0.06,0.05,0.05,0.05,0.05,0.05,0.05,0.05,0.05,0.06];
var band_MUCRz = [0.25,0.25,0.25,0.2,0.16,0.16,0.16,0.16,0.15,0.12,0.12,0.12,0.16,0.2];

var blk_ESPCz = [0.6,1.8,0.6,0.8,3.22,0.7,0.5,0.6,1.44,0.5,0.45,0.5,0.6,1.0,2.35,
  0.7,0.45,0.4,0.5,0.9,1.5,3.98,0.6,0.5,0.8,4.25,2.4,0.5,0.6,0.9,0.6,
  0.5,0.35,0.3,0.4,0.35,0.3,0.35,0.4,0.45,0.5,0.45,0.4,0.5,0.6,0.5,
  0.45,0.6,4.6,0.6,0.4,0.35,0.4,0.35,0.4,0.5,0.45,0.6,3.07,1.2,1.8,
  0.8,1.5,0.5,0.4,0.35,0.35,0.3,0.3,0.35,0.3,0.3,0.35,0.3,0.35,0.4,
  2.35,0.35,0.3,0.3,0.35,0.3,0.4,0.35,0.4,0.45,0.5,0.6,0.55,0.6,1.5,
  1.9,0.7,0.6,0.8,0.7,0.9,1.07,0.7,0.6,0.55,0.6,0.5];
var hi_ESPCz = [2.0,4.7,1.5,4.7,4.7,1.8,4.7,1.5,4.7,1.2,4.7,1.5,2.0,4.7,4.7,
  1.5,4.7,1.2,4.7,1.8,4.7,4.7,1.5,4.7,4.7,4.7,4.7,1.2,4.7,1.5,1.2,
  1.0,1.5,4.7,0.9,1.2,4.7,1.0,1.3,4.7,1.5,1.2,4.7,1.0,1.8,4.7,
  1.5,4.7,4.7,1.8,1.2,4.7,1.5,4.7,1.2,4.7,1.8,1.5,4.7,4.7,4.7,
  1.8,4.7,1.2,1.0,1.5,0.9,4.7,1.0,0.8,1.2,0.9,1.0,4.7,0.8,1.1,
  4.7,1.0,0.8,1.2,0.9,1.0,1.5,0.9,1.2,4.7,1.0,1.3,1.5,1.2,4.7,
  4.7,4.7,1.5,2.0,4.7,1.8,2.5,1.5,4.7,1.8,1.5,1.2];
var lo_ESPCz = [0.2,0.18,0.15,0.15,0.15,0.15,0.15,0.15,0.15,0.12,0.12,0.12,0.15,0.15];
var band_ESPCz = [0.9,0.9,0.9,0.8,0.7,0.7,0.8,0.8,0.6,0.5,0.5,0.5,0.7,0.8];

var blk_HPACz = [null,null,null,null,0.65,1.6,0.7,0.85,0.8,0.75,0.9,0.8,0.75,0.85,0.9,
  1.73,0.8,0.85,0.9,1.0,0.85,1.1,1.79,0.9,1.0,1.2,2.05,0.41,0.8,0.85,0.9,
  0.8,0.85,0.75,0.9,0.8,0.7,0.6,0.56,0.6,0.7,0.75,0.9,1.0,1.1,1.15,
  1.1,1.2,1.79,1.15,1.1,1.2,1.15,1.1,1.2,1.15,1.05,1.1,1.2,1.1,1.0,
  1.1,1.05,0.95,1.0,0.9,0.8,0.75,0.7,0.8,0.75,0.7,0.55,0.41,0.7,0.8,
  0.75,0.6,0.37,0.7,0.8,0.6,0.29,0.7,0.85,0.9,0.8,1.0,0.95,1.0,0.9,
  1.1,1.9,1.6,1.3,1.4,1.2,1.3,1.45,1.5,1.35,1.45,1.5];
var hi_HPACz = [null,null,null,null,2.1,2.1,2.1,2.1,2.1,2.1,2.1,2.1,2.1,2.1,2.1,
  2.1,2.1,2.1,2.1,2.1,1.9,2.1,2.1,2.1,2.1,2.1,2.1,2.1,2.1,2.1,1.9,
  2.1,2.1,1.9,2.1,2.1,2.1,2.1,2.1,2.1,1.8,2.1,2.1,2.1,2.1,2.1,
  2.1,2.1,2.1,2.1,2.1,2.1,2.1,1.9,2.1,2.1,2.1,2.1,2.1,2.1,2.1,
  2.1,2.1,2.1,2.1,1.9,2.1,2.1,2.1,2.1,2.1,1.8,2.1,2.1,2.1,2.1,
  2.1,2.1,2.1,1.9,2.1,2.1,2.1,2.1,2.1,2.1,2.1,2.1,1.9,2.1,2.1,
  2.1,2.1,2.1,2.1,2.1,2.1,2.1,2.1,2.1,2.1,2.1,2.1];
var lo_HPACz = [0.15,0.12,0.1,0.1,0.1,0.08,0.08,0.08,0.08,0.08,0.1,0.1,0.12,0.15];
var band_HPACz = [1.8,1.8,1.8,1.8,1.8,1.8,1.8,1.8,1.7,1.6,1.6,1.6,1.8,1.9];

var blackSets = [blk_ISTRz, blk_MSFRz, blk_CAGRz, blk_IFILz, blk_AIOz, blk_ESMLz, blk_ILLIz, blk_EFIUz, blk_HLNIz,
  blk_IVCRz, blk_ESALz, blk_HAGAz, blk_MSRUz, blk_EMFSz, blk_HSRSz, blk_MUCRz, blk_ESPCz, blk_HPACz];
var hiSets = [hi_ISTRz, hi_MSFRz, hi_CAGRz, hi_IFILz, hi_AIOz, hi_ESMLz, hi_ILLIz, hi_EFIUz, hi_HLNIz,
  hi_IVCRz, hi_ESALz, hi_HAGAz, hi_MSRUz, hi_EMFSz, hi_HSRSz, hi_MUCRz, hi_ESPCz, hi_HPACz];
var loSets = [lo_ISTRz, lo_MSFRz, lo_CAGRz, lo_IFILz, lo_AIOz, lo_ESMLz, lo_ILLIz, lo_EFIUz, lo_HLNIz,
  lo_IVCRz, lo_ESALz, lo_HAGAz, lo_MSRUz, lo_EMFSz, lo_HSRSz, lo_MUCRz, lo_ESPCz, lo_HPACz];
var bandSets = [band_ISTRz, band_MSFRz, band_CAGRz, band_IFILz, band_AIOz, band_ESMLz, band_ILLIz, band_EFIUz, band_HLNIz,
  band_IVCRz, band_ESALz, band_HAGAz, band_MSRUz, band_EMFSz, band_HSRSz, band_MUCRz, band_ESPCz, band_HPACz];

// layout (pixels)
var W = 583, H = 254;
var colLeft = [129, 810, 1492];
var rowTop = [37, 346, 656, 967, 1276, 1585];

// envelope line: one point per 15-day block centre, plus run ends; breaks where the trace has gaps
function envelope(vals, hi) {
  var pts = [], n = hi.length;
  for (var i = 0; i < n; i++) {
    var on = hi[i] != null;
    if (!on) { pts.push([2 * i + 1, null]); continue; }
    if (i === 0 || hi[i - 1] == null) pts.push([2 * i, vals[Math.floor(2 * i / 15)]]);
    if (i === n - 1 || hi[i + 1] == null) pts.push([2 * i + 2, vals[Math.min(vals.length - 1, Math.floor((2 * i + 2) / 15))]]);
  }
  for (var j = 0; j < vals.length; j++) {
    var c = 15 * j + 7.5, idx = Math.floor(c / 2);
    if (idx < n && hi[idx] != null) pts.push([c, vals[j]]);
  }
  pts.sort(function (a, b) { return a[0] - b[0]; });
  return pts;
}

var myChart = echarts.init(document.getElementById('main'));
var grids = [], xAxes = [], yAxes = [], series = [], graphics = [];
var AX = '#262626';

stations.forEach(function (name, k) {
  var row = Math.floor(k / 3), col = k % 3;
  var left = colLeft[col], top = rowTop[row];
  var tick = { inside: true, length: 9, lineStyle: { color: AX, width: 2 } };
  var border = { show: true, onZero: false, lineStyle: { color: AX, width: 2.5 } };

  grids.push({ left: left, top: top, width: W, height: H, show: false });

  xAxes.push({
    gridIndex: k, type: 'value', min: 0, max: xEnd, z: 10,
    axisLine: border, splitLine: { show: false },
    axisTick: Object.assign({ customValues: monthDays }, tick),
    axisLabel: {
      show: row === 5, customValues: monthDays, rotate: 41, margin: 22,
      fontSize: 28, color: AX, fontFamily: FONT,
      formatter: function (v) {
        var i = monthDays.indexOf(Math.round(v));
        return i >= 0 ? monthLabels[i] : '';
      }
    }
  });
  xAxes.push({
    gridIndex: k, type: 'value', position: 'top', min: 0, max: xEnd, z: 10,
    axisLine: border, splitLine: { show: false },
    axisTick: Object.assign({ customValues: monthDays }, tick),
    axisLabel: { show: false }
  });
  yAxes.push({
    gridIndex: k, type: 'value', min: 0, max: yMax[k], interval: yStep[k], z: 10,
    axisLine: border, splitLine: { show: false }, axisTick: tick,
    axisLabel: { fontSize: 28, color: AX, fontFamily: FONT, margin: 8, showMaxLabel: false },
    name: col === 0 ? 'RMS amp. (m/s)' : '', nameLocation: 'middle', nameGap: 52, nameRotate: 90,
    nameTextStyle: { fontSize: 30, color: AX, fontFamily: FONT }
  });
  yAxes.push({
    gridIndex: k, type: 'value', position: 'right', min: 0, max: yMax[k], interval: yStep[k], z: 10,
    axisLine: border, splitLine: { show: false }, axisTick: tick,
    axisLabel: { show: false }
  });

  // grey hourly trace: floor at even days, peak at odd days
  var hi = hiSets[k], lo = loSets[k];
  var grey = [];
  for (var i = 0; i < hi.length; i++) {
    if (hi[i] == null) grey.push([2 * i, null], [2 * i + 1, null]);
    else grey.push([2 * i, lo[Math.floor(2 * i / 15)]], [2 * i + 1, hi[i]]);
  }
  var black = blackSets[k].map(function (v, i) { return [2 * i, v]; });
  var base = { type: 'line', xAxisIndex: 2 * k, yAxisIndex: 2 * k, symbol: 'none', silent: true, animation: false };

  // dense part of the grey trace, then white below its floor
  series.push(Object.assign({}, base, {
    data: envelope(bandSets[k], hi), z: 1, lineStyle: { width: 0 },
    areaStyle: { color: '#b0b0b0', opacity: 1, origin: 'start' }
  }));
  series.push(Object.assign({}, base, {
    data: envelope(lo, hi), z: 1, lineStyle: { width: 0 },
    areaStyle: { color: '#ffffff', opacity: 1, origin: 'start' }
  }));
  series.push(Object.assign({}, base, {
    data: grey, z: 2, lineStyle: { color: '#808080', width: 1.2, join: 'bevel' }
  }));
  series.push(Object.assign({}, base, {
    data: black, z: 3, lineStyle: { color: '#000', width: 6, join: 'round' }
  }));
  series.push({
    type: 'scatter', xAxisIndex: 2 * k, yAxisIndex: 2 * k, silent: true, animation: false, z: 4,
    symbolSize: 1, itemStyle: { color: 'rgba(0,0,0,0)' },
    data: [{ name: 'LD', value: [ldDay, yMax[k] / 2] }, { name: 'PD', value: [pdDay, yMax[k] / 2] }],
    label: {
      show: true, position: 'right', distance: 0, offset: [-14, 0], formatter: '{b}',
      fontSize: 32, color: '#000', fontFamily: FONT,
      backgroundColor: 'rgba(255,255,255,0.72)', borderColor: 'rgba(255,255,255,0.95)', borderWidth: 2,
      padding: [10, 14, 10, 14]
    }
  });
  series.push(Object.assign({}, base, {
    data: [], z: 5,
    markLine: {
      symbol: ['none', 'none'], silent: true, animation: false, label: { show: false },
      lineStyle: { color: '#000', width: 3, type: [12, 7] },
      data: [{ xAxis: ldDay }, { xAxis: pdDay }]
    }
  }));

  graphics.push({
    type: 'text', x: left + W / 2, y: top - 3,
    style: { text: name, font: 'bold 30px ' + FONT, fill: '#000',
      align: 'center', verticalAlign: 'bottom', textAlign: 'center', textVerticalAlign: 'bottom' }
  });
  if (yExp[k]) {
    graphics.push({
      type: 'text', x: left + 3, y: top - 3,
      style: { text: '\u00d710', font: '28px ' + FONT, fill: AX,
        align: 'left', verticalAlign: 'bottom', textAlign: 'left', textVerticalAlign: 'bottom' }
    });
    graphics.push({
      type: 'text', x: left + 52, y: top - 15,
      style: { text: yExp[k], font: '19px ' + FONT, fill: AX,
        align: 'left', verticalAlign: 'bottom', textAlign: 'left', textVerticalAlign: 'bottom' }
    });
  }
});

var option = {
  backgroundColor: '#fff',
  animation: false,
  textStyle: { fontFamily: FONT },
  grid: grids,
  xAxis: xAxes,
  yAxis: yAxes,
  series: series,
  graphic: graphics
};
myChart.setOption(option, true);
</script>
</body>
</html>
